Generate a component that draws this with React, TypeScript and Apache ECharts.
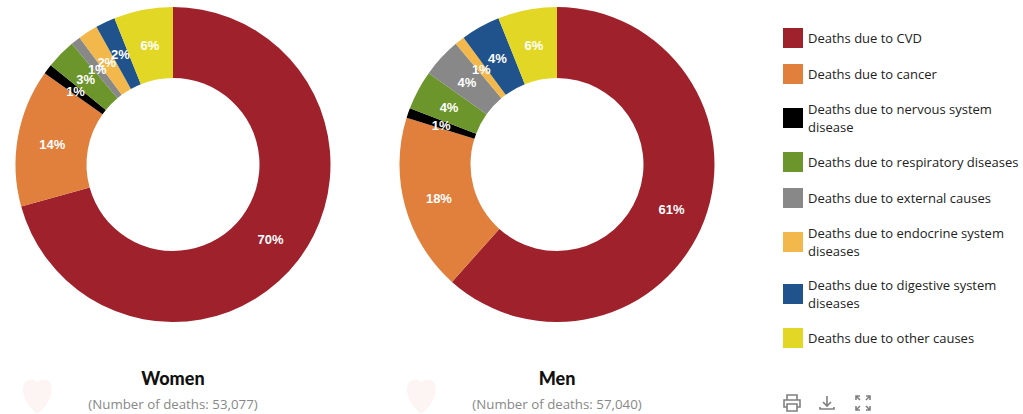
import React, { useEffect, useRef } from "react";
import * as echarts from "echarts";

const categories = [
  "Deaths due to CVD",
  "Deaths due to cancer",
  "Deaths due to nervous system\ndisease",
  "Deaths due to respiratory diseases",
  "Deaths due to external causes",
  "Deaths due to endocrine system\ndiseases",
  "Deaths due to digestive system\ndiseases",
  "Deaths due to other causes",
];
const womenValues = [70, 14, 1, 3, 1, 2, 2, 6];
const menValues = [61, 18, 1, 4, 4, 1, 4, 6];
const colors = ["#9e212b", "#e17f3d", "#000000", "#6c952b", "#888888", "#f2b84b", "#20528c", "#e2d725"];
const womenTitle = "Women";
const menTitle = "Men";
const womenSub = "(Number of deaths: 53,077)";
const menSub = "(Number of deaths: 57,040)";

const HEART = "M14 3C9 -1 2 0 1 8C0 17 7 28 14 33C21 28 28 17 27 8C26 0 19 -1 14 3ZM14 7C11 4 6 4 5 9C4 15 9 24 14 28C19 24 24 15 23 9C22 4 17 4 14 7Z";
const PRINT = "M4 6V1H14V6M4 13H1V6H17V13H14M4 10H14V17H4Z";
const DOWNLOAD = "M8 1V11M4 7L8 11L12 7M1 12V14H15V12";
const EXPAND = "M1 5V1H5M1 1L5 5M11 1H15V5M15 1L11 5M1 11V15H5M1 15L5 11M15 11V15H11M15 15L11 11";

echarts.graphic.registerShape("heartLogo", echarts.graphic.extendPath(HEART, {}) as any);
echarts.graphic.registerShape("printIcon", echarts.graphic.extendPath(PRINT, {}) as any);
echarts.graphic.registerShape("downloadIcon", echarts.graphic.extendPath(DOWNLOAD, {}) as any);
echarts.graphic.registerShape("expandIcon", echarts.graphic.extendPath(EXPAND, {}) as any);

const fontText = "'Open Sans', sans-serif";
const cy = 164.5;

function pie(cx: number, values: number[]) {
  return {
    type: "pie",
    center: [String(cx), String(cy)],
    radius: [86.5, 157.5],
    startAngle: 90,
    clockwise: true,
    silent: true,
    avoidLabelOverlap: false,
    minShowLabelAngle: 0,
    data: categories.map((name, i) => ({ name, value: values[i], itemStyle: { color: colors[i] } })),
    label: {
      show: true,
      position: "inside",
      formatter: "{c}%",
      color: "#ffffff",
      fontFamily: "'Liberation Sans', Arial, sans-serif",
      fontWeight: "bold",
      fontSize: 13,
    },
    labelLine: { show: false },
    // reference labels sit about 2px nearer the centre than ECharts' ring midpoint
    labelLayout: (params: any) => {
      const r = params.labelRect;
      const dx = r.x + r.width / 2 - cx;
      const dy = r.y + r.height / 2 - cy;
      const len = Math.hypot(dx, dy) || 1;
      return { hideOverlap: false, dx: (-dx / len) * 2.5, dy: (-dy / len) * 2.5 + 1 };
    },
  };
}

export default function App() {
  const ref = useRef<HTMLDivElement>(null);
  useEffect(() => {
    const chart = echarts.init(ref.current!, undefined, { renderer: "svg" });
    const iconStroke = { fill: "none", stroke: "#808080", lineWidth: 1.6 };
    const head = { fontFamily: "Lato, sans-serif", fontWeight: 900, fontSize: 18, color: "#111111" };
    const sub = { fontFamily: fontText, fontWeight: "normal", fontSize: 13.3, color: "#888888" };
    chart.setOption({
      animation: false,
      backgroundColor: "#ffffff",
      title: [
        { text: womenTitle, left: 173, top: 369, padding: 0, textAlign: "center", textStyle: head },
        { text: menTitle, left: 557, top: 369, padding: 0, textAlign: "center", textStyle: head },
        { text: womenSub, left: 173, top: 397, padding: 0, textAlign: "center", textStyle: sub },
        { text: menSub, left: 557, top: 397, padding: 0, textAlign: "center", textStyle: sub },
      ],
      legend: {
        orient: "vertical",
        left: 783,
        top: 28,
        padding: 0,
        itemWidth: 20,
        itemHeight: 20,
        itemGap: 16,
        icon: "rect",
        selectedMode: false,
        data: categories,
        textStyle: { fontFamily: fontText, fontSize: 13, lineHeight: 18, color: "#222222" },
      },
      graphic: [
        { type: "heartLogo", x: 22, y: 379, scaleX: 1.1, scaleY: 1.05, style: { fill: "#fdf4f4" }, silent: true },
        { type: "heartLogo", x: 406, y: 379, scaleX: 1.1, scaleY: 1.05, style: { fill: "#fdf4f4" }, silent: true },
        { type: "printIcon", x: 783, y: 394, style: iconStroke, silent: true },
        { type: "downloadIcon", x: 819, y: 395, style: iconStroke, silent: true },
        { type: "expandIcon", x: 855, y: 395, style: iconStroke, silent: true },
      ],
      series: [pie(173, womenValues), pie(557, menValues)],
    });
    return () => chart.dispose();
  }, []);
  return <div ref={ref} style={{ position: "absolute", left: 0, top: 0, width: 1023, height: 414 }} />;
}
